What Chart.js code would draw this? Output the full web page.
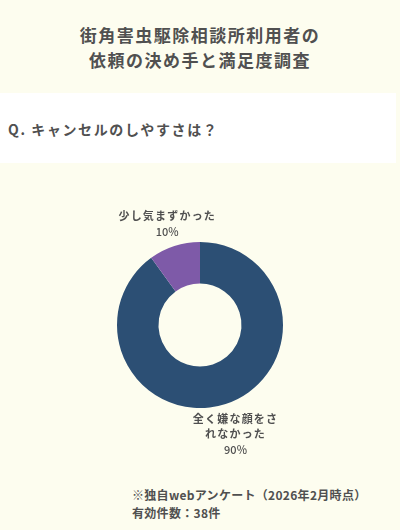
<!DOCTYPE html>
<html><head><meta charset="utf-8">
<script src="https://cdn.jsdelivr.net/npm/chart.js@4"></script>
<style>
html,body{margin:0;padding:0;width:400px;height:530px;background:#fdfdef;overflow:hidden;font-family:"Noto Sans CJK JP","Noto Sans",sans-serif;color:#505050;}
#title{position:absolute;top:22px;left:0;width:400px;text-align:center;font-weight:bold;font-size:17px;line-height:25px;letter-spacing:1.5px;}
#band{position:absolute;top:93px;left:0;width:396px;height:70px;background:#fff;}
#q{position:absolute;top:118px;left:8px;font-weight:bold;font-size:14px;letter-spacing:1.6px;line-height:22px;}
#wrap{position:absolute;top:175px;left:0;width:400px;height:300px;}
#foot{position:absolute;top:486px;left:132px;font-weight:bold;font-size:12px;line-height:18px;letter-spacing:0.3px;}
</style></head>
<body>
<div id="title">街角害虫駆除相談所利用者の<br>依頼の決め手と満足度調査</div>
<div id="band"></div>
<div id="q">Q. キャンセルのしやすさは？</div>
<div id="wrap"><canvas id="c"></canvas></div>
<div id="foot">※独自webアンケート（2026年2月時点）<br>有効件数：38件</div>
<script>
const categories = [["全く嫌な顔をさ","れなかった"], ["少し気まずかった"]];
const values = [90, 10];
const percentLabels = ["90%", "10%"];
const colors = ["#2c4f74", "#7e5aa8"];

const labelPlugin = {
  id: 'outLabels',
  afterDraw(chart) {
    const ctx = chart.ctx;
    const meta = chart.getDatasetMeta(0);
    const offsets = [32, 23];
    meta.data.forEach((arc, i) => {
      const mid = (arc.startAngle + arc.endAngle) / 2;
      const r = arc.outerRadius + offsets[i];
      const cx = arc.x + Math.cos(mid) * r;
      const cy = arc.y + Math.sin(mid) * r;
      const lines = categories[i];
      const lh = 14.5;
      const gap = 16;
      const totalH = (lines.length - 1) * lh + gap;
      let y = cy - totalH / 2;
      ctx.save();
      ctx.fillStyle = '#505050';
      ctx.textAlign = 'center';
      ctx.textBaseline = 'middle';
      ctx.font = 'bold 11px "Noto Sans CJK JP"';
      try { ctx.letterSpacing = '1.2px'; } catch(e) {}
      lines.forEach((l, k) => { ctx.fillText(l, cx, y); if (k < lines.length - 1) y += lh; });
      y += gap;
      try { ctx.letterSpacing = '0px'; } catch(e) {}
      ctx.font = '500 11px "Noto Sans CJK JP"';
      ctx.fillText(percentLabels[i], cx, y);
      ctx.restore();
    });
  }
};

new Chart(document.getElementById('c'), {
  type: 'doughnut',
  data: {
    labels: categories.map(c => c.join('')),
    datasets: [{ data: values, backgroundColor: colors, borderWidth: 0 }]
  },
  options: {
    responsive: true,
    maintainAspectRatio: false,
    animation: false,
    cutout: '50%',
    layout: { padding: { top: 67, bottom: 67 } },
    plugins: { legend: { display: false }, tooltip: { enabled: false } }
  },
  plugins: [labelPlugin]
});
</script>
</body></html>
